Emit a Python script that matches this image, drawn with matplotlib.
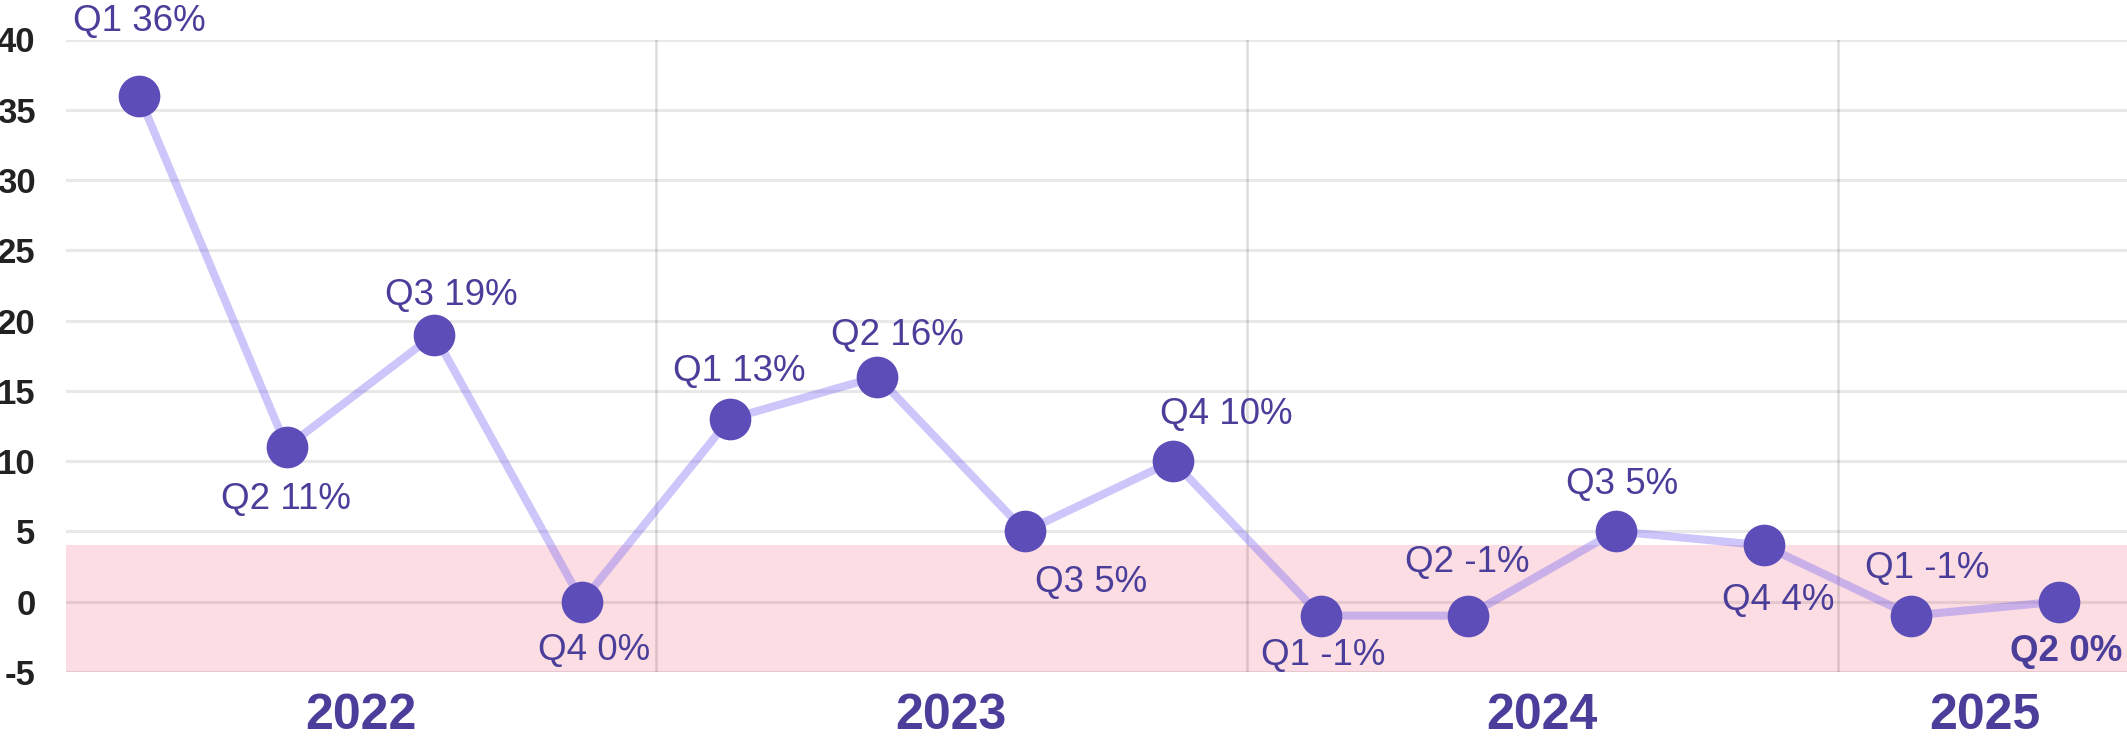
import matplotlib
matplotlib.use("Agg")
import matplotlib.pyplot as plt
from matplotlib.transforms import blended_transform_factory

# ---- data ----
quarters = ["Q1", "Q2", "Q3", "Q4", "Q1", "Q2", "Q3", "Q4",
            "Q1", "Q2", "Q3", "Q4", "Q1", "Q2"]
years = [2022, 2022, 2022, 2022, 2023, 2023, 2023, 2023,
         2024, 2024, 2024, 2024, 2025, 2025]
values = [36, 11, 19, 0, 13, 16, 5, 10, -1, -1, 5, 4, -1, 0]
band_low, band_high = -5, 4
y_ticks = [-5, 0, 5, 10, 15, 20, 25, 30, 35, 40]

# ---- label layout (pixel offsets of label centre from point) ----
label_offsets = [(0, 78), (-1, -49), (17, 43), (12, -45), (9, 51), (20, 45),
                 (66, -48), (53, 50), (3, -36), (-1, 57), (6, 50), (15, -52),
                 (16, 51), (7, -46)]

W, H, DPI = 2127, 738, 100
fig = plt.figure(figsize=(W / DPI, H / DPI), dpi=DPI)
ax = fig.add_axes([66 / W, (H - 671.8) / H, 1 - 66 / W, (671.8 - 39.5) / H])

x = list(range(len(values)))
ax.set_xlim(-0.494, 13.46)
ax.set_ylim(-5, 40)

# band
ax.axhspan(band_low, band_high, color="#fcdde3", zorder=0, lw=0)

# horizontal grid
for t in y_ticks:
    ax.axhline(t, color=(0, 0, 0, 0.09), lw=2.2, zorder=1)

# year separators
uniq_years = sorted(set(years))
for yr in uniq_years[:-1]:
    last = max(i for i, v in enumerate(years) if v == yr)
    ax.axvline(last + 0.5, color=(0, 0, 0, 0.13), lw=1.8, zorder=1)

# line and markers
ax.plot(x, values, color=(0.43, 0.36, 0.95, 0.35), lw=5.8, zorder=2,
        solid_capstyle="round")
ax.plot(x, values, linestyle="none", marker="o", markersize=29,
        color="#5c4db8", zorder=3)

fam = ["Liberation Sans", "DejaVu Sans"]
label_color = "#4a3e9a"
for i, (q, v) in enumerate(zip(quarters, values)):
    dx, dy = label_offsets[i]
    bold = (i == len(values) - 1)
    ax.annotate(f"{q} {v}%", (i, v), xytext=(dx, dy - 13),
                textcoords="offset pixels", ha="center", va="baseline",
                fontsize=26.5, color=label_color, family=fam,
                fontweight="bold" if bold else "normal", zorder=4,
                annotation_clip=False)

# y ticks
ax.set_yticks(y_ticks)
ax.set_yticklabels([str(t) for t in y_ticks], fontsize=25, fontweight="bold",
                   color="#222222", family=fam)
ax.tick_params(axis="y", length=0, pad=22)
ax.set_xticks([])

# year labels
tr = blended_transform_factory(ax.transData, fig.transFigure)
for yr in uniq_years:
    idx = [i for i, v in enumerate(years) if v == yr]
    cx = sum(idx) / len(idx)
    ax.text(cx, (H - 716) / H, str(yr), transform=tr, ha="center", va="center",
            fontsize=36, fontweight="bold", color=label_color, family=fam)

for s in ax.spines.values():
    s.set_visible(False)

fig.savefig("out.png", dpi=DPI)
